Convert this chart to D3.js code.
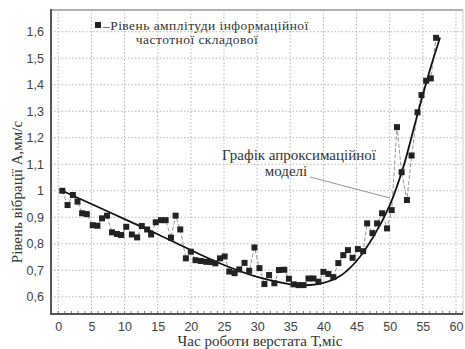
<!DOCTYPE html>
<html>
<head>
<meta charset="utf-8">
<script src="https://cdn.jsdelivr.net/npm/d3@7/dist/d3.min.js"></script>
<style>
  body { margin: 0; background: #fff; }
  svg { display: block; }
  .serif { font-family: "Times New Roman", "Liberation Serif", "DejaVu Serif", serif; font-size: 15px; fill: #333; }
  .legend { font-size: 13.5px; letter-spacing: 0.45px; }
</style>
</head>
<body>
<div id="chart"></div>
<script>
// measured levels (time in months, amplitude mm/s)
var timeMonths = [0.6,1.4,2.2,2.9,3.6,4.3,5.2,5.9,6.6,7.35,8.1,8.85,9.5,10.25,11.1,11.9,12.6,13.4,14.0,14.7,
  15.5,16.2,17.0,17.7,18.4,19.25,20.0,20.7,21.5,22.3,23.0,23.7,24.4,25.1,25.8,26.6,27.3,28.1,28.8,29.6,
  30.35,31.1,31.8,32.6,33.3,34.1,34.8,35.5,36.25,37.0,37.75,38.5,39.25,40.0,40.75,41.5,42.25,43.0,43.7,44.4,
  45.2,46.0,46.6,47.4,48.1,48.85,49.6,50.3,51.1,51.8,52.6,53.3,54.2,54.8,55.5,56.2,57.0];
var amplitude = [1.000,0.946,0.984,0.959,0.915,0.912,0.870,0.868,0.896,0.906,0.843,0.837,0.833,0.864,0.835,0.824,0.867,0.854,0.835,0.881,
  0.889,0.889,0.823,0.906,0.854,0.745,0.770,0.738,0.735,0.732,0.731,0.726,0.745,0.752,0.695,0.689,0.703,0.728,0.698,0.786,
  0.708,0.648,0.682,0.651,0.701,0.702,0.668,0.647,0.644,0.644,0.669,0.669,0.657,0.694,0.686,0.674,0.727,0.757,0.776,0.747,
  0.780,0.772,0.877,0.840,0.877,0.915,0.858,0.927,1.240,1.070,0.965,1.133,1.296,1.361,1.415,1.424,1.577];

// approximation model
var modelTime  = [0.6, 5, 10, 15, 20, 25, 30, 35, 37, 40, 42.5, 45, 47.5, 50, 52, 54, 56, 57.6];
var modelValue = [1.0, 0.95, 0.893, 0.836, 0.776, 0.72, 0.675, 0.647, 0.643, 0.652, 0.678, 0.735, 0.825, 0.945, 1.085, 1.27, 1.45, 1.578];

var xTicks = [0,5,10,15,20,25,30,35,40,45,50,55,60];
var yTicks = [0.6,0.7,0.8,0.9,1.0,1.1,1.2,1.3,1.4,1.5,1.6];

var width = 465, height = 349;
var plot = { left: 51, right: 463, top: 10, bottom: 314 };

var svg = d3.select('#chart').append('svg')
    .attr('width', width)
    .attr('height', height);

var x = d3.scaleLinear().domain([-1.1, 61.06]).range([plot.left, plot.right]);
var y = d3.scaleLinear().domain([0.535, 1.682]).range([plot.bottom, plot.top]);

var fmt = function(d) { return d3.format('.1~f')(d).replace('.', ','); };

// grid
svg.append('g').selectAll('line')
    .data(xTicks).enter().append('line')
    .attr('x1', function(d) { return x(d); }).attr('x2', function(d) { return x(d); })
    .attr('y1', plot.top).attr('y2', plot.bottom)
    .attr('stroke', '#b5b5b5').attr('stroke-width', 1).attr('stroke-dasharray', '1.5,2');
svg.append('g').selectAll('line')
    .data(yTicks).enter().append('line')
    .attr('x1', plot.left).attr('x2', plot.right)
    .attr('y1', function(d) { return y(d); }).attr('y2', function(d) { return y(d); })
    .attr('stroke', '#b5b5b5').attr('stroke-width', 1).attr('stroke-dasharray', '1.5,2');

// frame
svg.append('line').attr('x1', plot.left).attr('x2', plot.right).attr('y1', plot.top).attr('y2', plot.top)
    .attr('stroke', '#b0b0b0').attr('stroke-width', 2);
svg.append('line').attr('x1', plot.right).attr('x2', plot.right).attr('y1', plot.top).attr('y2', plot.bottom)
    .attr('stroke', '#d0d0d0').attr('stroke-width', 1);

// axes
var xAxis = d3.axisBottom(x).tickValues(xTicks).tickSize(0).tickPadding(8).tickFormat(fmt);
var gx = svg.append('g').attr('transform', 'translate(0,' + plot.bottom + ')').call(xAxis);
var yAxis = d3.axisLeft(y).tickValues(yTicks).tickSize(0).tickPadding(7).tickFormat(fmt);
var gy = svg.append('g').attr('transform', 'translate(' + plot.left + ',0)').call(yAxis);
[gx, gy].forEach(function(g) {
  g.select('.domain').remove();
  g.selectAll('text')
    .attr('fill', '#404040')
    .style('font-family', '"Liberation Sans", Arial, sans-serif')
    .style('font-size', '12.5px');
});

// minor ticks on x axis
svg.append('g').selectAll('line')
    .data(d3.range(0, 62, 1)).enter().append('line')
    .attr('x1', function(d) { return x(d); }).attr('x2', function(d) { return x(d); })
    .attr('y1', plot.bottom).attr('y2', plot.bottom - 3)
    .attr('stroke', '#777').attr('stroke-width', 1);

svg.append('line').attr('x1', plot.left).attr('x2', plot.right).attr('y1', plot.bottom).attr('y2', plot.bottom)
    .attr('stroke', '#555').attr('stroke-width', 2);
svg.append('line').attr('x1', plot.left).attr('x2', plot.left).attr('y1', plot.top - 1).attr('y2', plot.bottom + 1)
    .attr('stroke', '#555').attr('stroke-width', 2);

// data series
var pts = timeMonths.map(function(t, i) { return [t, amplitude[i]]; });
svg.append('path')
    .datum(pts)
    .attr('d', d3.line().x(function(d) { return x(d[0]); }).y(function(d) { return y(d[1]); }))
    .attr('fill', 'none')
    .attr('stroke', '#8a8a8a')
    .attr('stroke-width', 0.9)
    .attr('stroke-dasharray', '4,2');

// model curve
var model = modelTime.map(function(t, i) { return [t, modelValue[i]]; });
svg.append('path')
    .datum(model)
    .attr('d', d3.line().curve(d3.curveCatmullRom.alpha(0.5))
        .x(function(d) { return x(d[0]); }).y(function(d) { return y(d[1]); }))
    .attr('fill', 'none')
    .attr('stroke', '#111')
    .attr('stroke-width', 1.8);

var sq = 6;
svg.append('g').selectAll('rect')
    .data(pts).enter().append('rect')
    .attr('x', function(d) { return x(d[0]) - sq / 2; })
    .attr('y', function(d) { return y(d[1]) - sq / 2; })
    .attr('width', sq).attr('height', sq)
    .attr('fill', '#222');

// legend
svg.append('rect').attr('x', 95).attr('y', 22).attr('width', 6).attr('height', 6).attr('fill', '#222');
svg.append('text').attr('class', 'serif legend').attr('x', 103).attr('y', 29.5)
    .text('\u2013Рівень амплітуди інформаційної');
svg.append('text').attr('class', 'serif legend').attr('x', 197).attr('y', 44).attr('text-anchor', 'middle')
    .text('частотної складової');

// annotation
svg.append('text').attr('class', 'serif').attr('x', 299).attr('y', 160).attr('text-anchor', 'middle')
    .text('Графік апроксимаційної');
svg.append('text').attr('class', 'serif').attr('x', 286).attr('y', 176).attr('text-anchor', 'middle')
    .text('моделі');
svg.append('line').attr('x1', 310).attr('y1', 177).attr('x2', 390).attr('y2', 198)
    .attr('stroke', '#999').attr('stroke-width', 1.2);

// axis titles
svg.append('text').attr('class', 'serif').attr('x', 260).attr('y', 346).attr('text-anchor', 'middle')
    .text('Час роботи верстата Т,міс');
svg.append('text').attr('class', 'serif')
    .attr('transform', 'translate(22,192) rotate(-90)')
    .attr('text-anchor', 'middle')
    .text('Рівень вібрації А,мм/с');
</script>
</body>
</html>
